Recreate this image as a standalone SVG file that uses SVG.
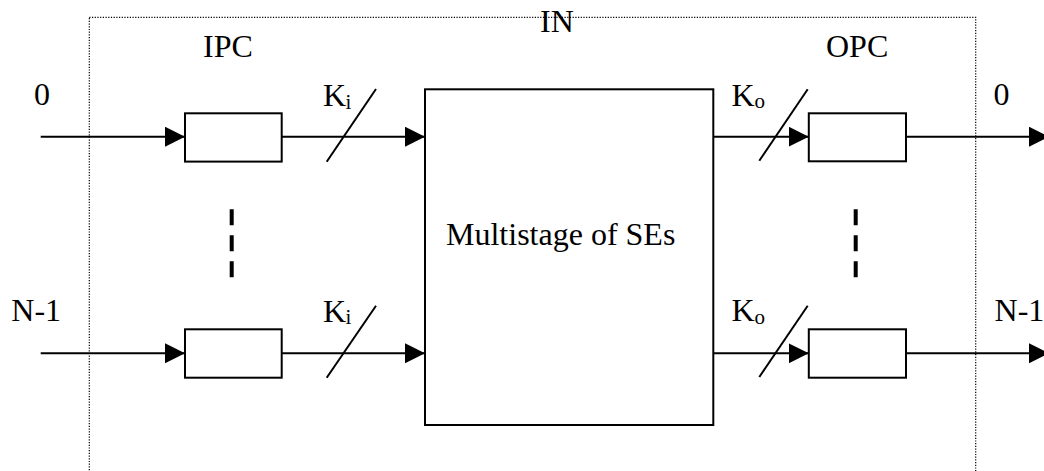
<svg xmlns="http://www.w3.org/2000/svg" width="1044" height="471" viewBox="0 0 1044 471">
<style>
text{font-family:"Liberation Serif","Times New Roman",serif;fill:#000;font-size:32px}
.sub{font-size:21px}
.box{fill:#fff;stroke:#000;stroke-width:2}
.ln{stroke:#000;stroke-width:2;fill:none}
.arr{marker-end:url(#ah)}
.frame{fill:none;stroke:#000;stroke-width:1.2;stroke-dasharray:1.2 1.5}
.dots{stroke:#000;stroke-width:4;stroke-dasharray:16 10}
</style>
<defs>
<marker id="ah" markerUnits="userSpaceOnUse" markerWidth="20" markerHeight="20" viewBox="0 0 20 20" refX="20" refY="10" orient="auto">
<path d="M0,0 L20,10 L0,20 Z" fill="#000"/>
</marker>
</defs>
<rect width="1044" height="471" fill="#fff"/>
<g id="frame-IN">
<rect class="frame" x="89.3" y="17.3" width="886.4" height="470"/>
<text x="540" y="32">IN</text>
</g>
<g id="labels">
<text x="203" y="57">IPC</text>
<text x="826" y="57">OPC</text>
<text x="34" y="105">0</text>
<text x="993.6" y="105">0</text>
<text x="11.3" y="321">N-1</text>
<text x="994.6" y="321">N-1</text>
</g>
<g id="connectors">
<line class="ln arr" x1="40.7" y1="136.7" x2="185" y2="136.7"/>
<line class="ln arr" x1="281.7" y1="136.7" x2="425" y2="136.7"/>
<line class="ln arr" x1="713.3" y1="136.7" x2="808.8" y2="136.7"/>
<line class="ln arr" x1="906" y1="136.7" x2="1049" y2="136.7"/>
<line class="ln arr" x1="40.7" y1="353.3" x2="185" y2="353.3"/>
<line class="ln arr" x1="281.7" y1="353.3" x2="425" y2="353.3"/>
<line class="ln arr" x1="713.3" y1="353.3" x2="808.8" y2="353.3"/>
<line class="ln arr" x1="906" y1="353.3" x2="1049" y2="353.3"/>
<line class="ln" x1="326.7" y1="161.7" x2="376" y2="89"/>
<line class="ln" x1="759.3" y1="160.7" x2="807.7" y2="89.3"/>
<line class="ln" x1="326.7" y1="377.7" x2="376" y2="305.7"/>
<line class="ln" x1="759.3" y1="377" x2="807.7" y2="305.7"/>
<text x="323" y="106">K</text><text class="sub" x="345.5" y="108.5">i</text>
<text x="731.5" y="105.5">K</text><text class="sub" x="754.5" y="108">o</text>
<text x="323" y="321.7">K</text><text class="sub" x="345.5" y="324">i</text>
<text x="731.5" y="321.2">K</text><text class="sub" x="754.5" y="323.7">o</text>
<line class="dots" x1="231.7" y1="209.3" x2="231.7" y2="278.3"/>
<line class="dots" x1="855.7" y1="209.3" x2="855.7" y2="278.3"/>
</g>
<g id="ipc-0"><rect class="box" x="185" y="113.3" width="96.7" height="48.3"/></g>
<g id="ipc-n1"><rect class="box" x="185" y="329.3" width="96.7" height="48.4"/></g>
<g id="opc-0"><rect class="box" x="808.8" y="113.3" width="97.2" height="48"/></g>
<g id="opc-n1"><rect class="box" x="808.8" y="329.3" width="97.2" height="48.4"/></g>
<g id="multistage">
<rect class="box" x="425" y="89.3" width="288.3" height="335.7" fill="none" style="fill:none"/>
<text x="446" y="245">Multistage of SEs</text>
</g>
</svg>
